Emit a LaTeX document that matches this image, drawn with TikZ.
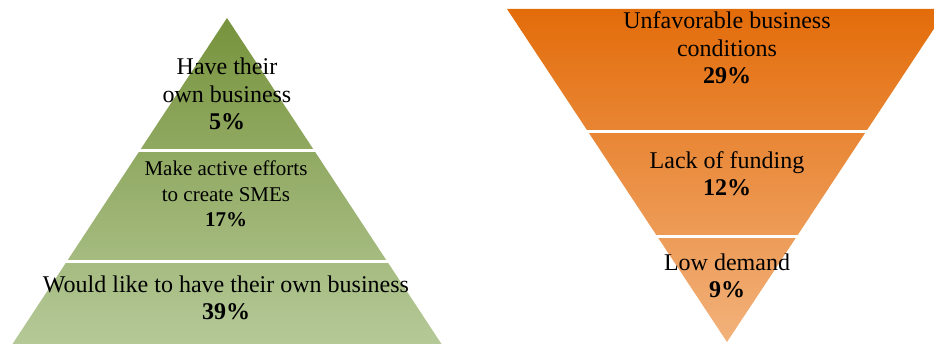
\documentclass[tikz,border=0pt]{standalone}
\usepackage{fontspec}
\setmainfont{Liberation Serif}
\definecolor{olivetop}{RGB}{119,147,60}
\definecolor{olivebot}{RGB}{181,201,152}
\definecolor{orangetop}{RGB}{227,108,10}
\definecolor{orangebot}{RGB}{242,178,124}

\begin{document}
\begin{tikzpicture}[x=1pt,y=-1pt,
  band/.style={align=center,font=\fontsize{24}{27.5}\selectfont,inner sep=0pt,anchor=base},
  gap/.style={draw=white,line width=3pt}]
\useasboundingbox (0,0) rectangle (934,344);
\begin{scope}
\clip (0,0) rectangle (934,344);
% pyramid and funnel
\shade[top color=olivetop,bottom color=olivebot] (227,18) -- (441.5,344) -- (12.5,344) -- cycle;
\shade[top color=orangetop,bottom color=orangebot] (507,9) -- (947,9) -- (727,342) -- cycle;
\end{scope}
\draw[gap] (0,150.5) -- (460,150.5);
\draw[gap] (0,261.5) -- (460,261.5);
\draw[gap] (490,131.5) -- (934,131.5);
\draw[gap] (490,236.5) -- (934,236.5);

\node[band] (own) at (227,130) {Have their\\own business\\\textbf{5\%}};
\node[band,font=\fontsize{21}{25.5}\selectfont] (smes) at (226,227) {Make active efforts\\to create SMEs\\\textbf{17\%}};
\node[band] (like) at (226,320) {Would like to have their own business\\\textbf{39\%}};

\node[band] (cond) at (727,84) {Unfavorable business\\conditions\\\textbf{29\%}};
\node[band] (fund) at (727,196) {Lack of funding\\\textbf{12\%}};
\node[band] (dem) at (727,298) {Low demand\\\textbf{9\%}};
\end{tikzpicture}
\end{document}
